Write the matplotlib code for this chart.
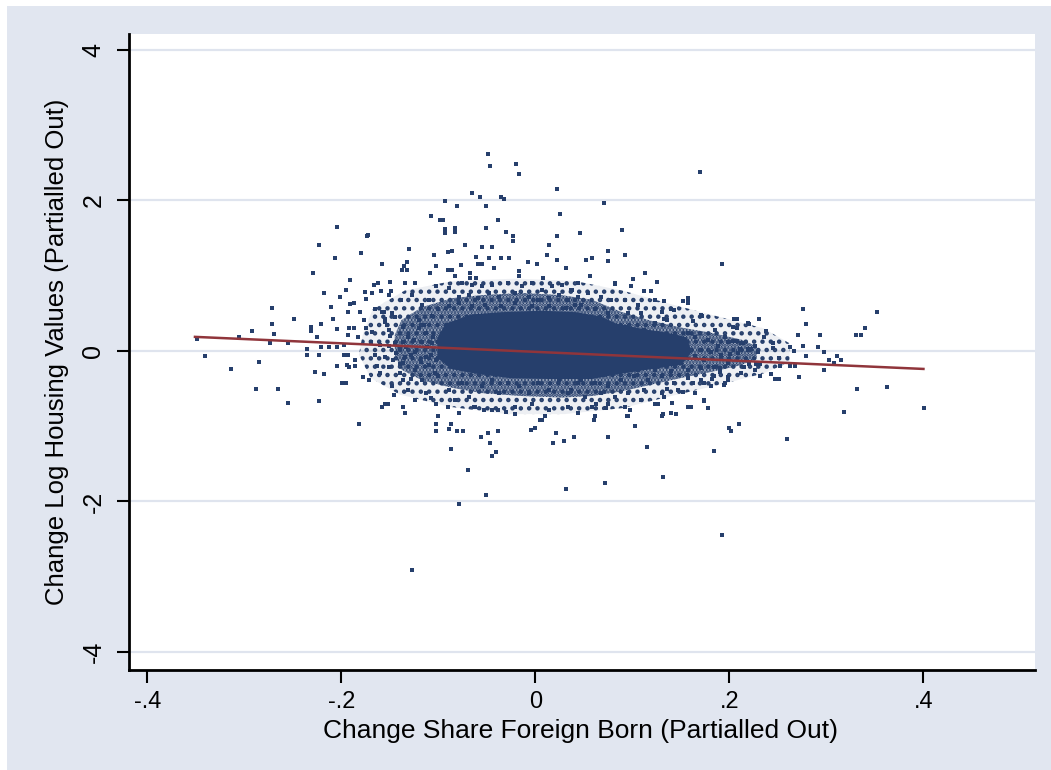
import numpy as np
import matplotlib.pyplot as plt
from matplotlib.patches import Rectangle

# outlying points above the cloud
upper = [(-0.049, 2.61), (-0.047, 2.46), (-0.020, 2.48), (-0.017, 2.35), (0.170, 2.38),
         (0.022, 2.15), (-0.065, 2.10), (-0.057, 2.04), (-0.035, 2.04), (-0.032, 2.02),
         (-0.093, 1.99), (0.071, 1.97), (-0.081, 1.92), (-0.051, 1.92), (0.025, 1.82),
         (-0.108, 1.79), (-0.098, 1.74), (-0.095, 1.74), (-0.039, 1.74), (-0.093, 1.62),
         (-0.093, 1.56), (-0.083, 1.63), (-0.083, 1.58), (-0.051, 1.63), (-0.030, 1.58),
         (-0.023, 1.53), (-0.023, 1.46), (0.022, 1.53), (0.046, 1.56), (0.089, 1.61),
         (-0.174, 1.53), (-0.073, 1.40), (0.014, 1.40), (-0.130, 1.36), (-0.086, 1.33),
         (-0.055, 1.38), (-0.045, 1.38), (0.075, 1.33), (-0.090, 1.31), (-0.105, 1.28),
         (0.012, 1.28), (0.092, 1.28), (-0.061, 1.25), (-0.048, 1.23), (-0.035, 1.24),
         (-0.027, 1.23), (0.022, 1.21), (0.075, 1.20), (0.052, 1.21), (0.058, 1.23),
         (0.192, 1.15), (-0.158, 1.15), (-0.132, 1.18), (-0.135, 1.13), (-0.138, 1.07),
         (-0.132, 1.07), (-0.103, 1.13), (-0.059, 1.15), (-0.055, 1.15), (-0.008, 1.18),
         (0.002, 1.15), (0.032, 1.10), (0.056, 1.00), (0.113, 1.04), (-0.077, 1.14),
         (-0.109, 1.04), (-0.090, 1.07), (-0.086, 1.07), (-0.083, 1.00), (-0.043, 1.10),
         (-0.067, 1.04), (-0.067, 0.97), (-0.061, 0.97), (-0.017, 1.06), (-0.017, 1.00),
         (0.008, 0.97), (0.101, 0.95), (0.125, 0.92), (0.082, 0.89)]

# outlying points below the cloud
lower = [(-0.127, -2.91), (-0.079, -2.04), (-0.051, -1.92), (0.032, -1.84), (0.072, -1.76),
         (0.131, -1.68), (0.192, -2.45), (-0.070, -1.58), (-0.087, -1.30), (-0.045, -1.40),
         (-0.041, -1.35), (-0.049, -1.09), (-0.047, -1.22), (-0.056, -1.15), (-0.039, -1.07),
         (-0.103, -0.97), (-0.103, -1.07), (-0.087, -0.97), (-0.089, -1.04), (-0.081, -1.06),
         (-0.075, -1.07), (0.018, -1.22), (0.021, -1.09), (0.029, -1.20), (0.040, -1.15),
         (-0.005, -1.05), (0.000, -1.02), (0.007, -0.92), (0.060, -0.92), (0.075, -1.15),
         (0.115, -1.28), (0.103, -1.00), (0.184, -1.33), (0.200, -1.02), (0.202, -1.07),
         (0.210, -0.97), (-0.158, -0.74), (-0.152, -0.71), (-0.146, -0.58), (-0.108, -0.62),
         (-0.090, -0.74), (-0.063, -0.74), (-0.053, -0.79), (-0.039, -0.79), (-0.030, -0.81),
         (-0.021, -0.84), (0.005, -0.92), (0.010, -0.87), (0.094, -0.87), (0.097, -0.79),
         (0.131, -0.84), (0.145, -0.84), (0.160, -0.74), (0.174, -0.66), (0.178, -0.76),
         (0.073, -0.76), (0.062, -0.71), (0.141, -0.69), (0.123, -0.71)]

# left tail
left = [(-0.205, 1.64), (-0.173, 1.54), (-0.223, 1.41), (-0.180, 1.30), (-0.207, 1.23),
        (-0.229, 1.03), (-0.191, 0.94), (-0.218, 0.77), (-0.195, 0.81), (-0.272, 0.57),
        (-0.249, 0.43), (-0.272, 0.36), (-0.270, 0.23), (-0.292, 0.26), (-0.306, 0.18),
        (-0.274, 0.11), (-0.255, 0.11), (-0.349, 0.16), (-0.341, -0.07), (-0.314, -0.24),
        (-0.285, -0.15), (-0.288, -0.50), (-0.265, -0.50), (-0.255, -0.69), (-0.223, -0.66),
        (-0.182, -0.97), (-0.158, -0.75), (-0.231, 0.32), (-0.231, 0.27), (-0.221, 0.36),
        (-0.225, 0.18), (-0.236, 0.02), (-0.236, -0.05), (-0.223, -0.05), (-0.221, 0.05),
        (-0.213, 0.05), (-0.205, 0.05), (-0.227, -0.28), (-0.218, -0.31), (-0.211, 0.58),
        (-0.209, 0.43), (-0.205, 0.29), (-0.201, 0.71), (-0.197, 0.08), (-0.205, -0.20),
        (-0.199, -0.43), (-0.195, -0.43), (-0.193, 0.51), (-0.191, 0.62), (-0.187, 0.63),
        (-0.193, 0.21), (-0.192, 0.31), (-0.187, 0.31), (-0.197, -0.05), (-0.193, -0.05),
        (-0.194, -0.19), (-0.192, -0.22), (-0.186, -0.12), (-0.186, -0.20), (-0.183, 0.19),
        (-0.178, -0.35), (-0.172, -0.39), (-0.176, 0.78), (-0.175, 0.69), (-0.168, 0.77),
        (-0.166, 0.87), (-0.162, 0.90), (-0.159, 0.80), (-0.150, 0.92), (-0.149, 0.80),
        (-0.181, 0.51), (-0.177, 0.41), (-0.175, 0.30), (-0.165, 0.56), (-0.158, 0.51),
        (-0.155, 0.43), (-0.153, 0.35), (-0.150, 0.20), (-0.145, 0.10), (-0.140, 0.02),
        (-0.147, -0.12), (-0.140, -0.18), (-0.133, 0.05), (-0.128, -0.05), (-0.125, 0.15),
        (-0.120, 0.30), (-0.118, -0.15), (-0.112, 0.05), (-0.108, -0.05), (-0.106, 0.18),
        (-0.104, -0.30), (-0.160, 0.08), (-0.165, -0.05), (-0.170, 0.12), (-0.163, -0.20),
        (-0.155, 0.38), (-0.145, 0.45), (-0.140, -0.30), (-0.128, -0.38), (-0.115, 0.35),
        (-0.160, -0.30), (-0.168, 0.25)]

# right tail
right = [(0.276, 0.56), (0.352, 0.51), (0.340, 0.31), (0.330, 0.21), (0.336, 0.21),
         (0.279, 0.36), (0.271, 0.21), (0.293, 0.21), (0.276, 0.07), (0.291, 0.05),
         (0.297, -0.02), (0.311, -0.07), (0.315, -0.12), (0.303, -0.12), (0.308, -0.16),
         (0.297, -0.25), (0.272, -0.35), (0.332, -0.50), (0.362, -0.48), (0.318, -0.81),
         (0.401, -0.76), (0.259, -1.17), (0.262, 0.05), (0.267, 0.00), (0.279, -0.07),
         (0.251, -0.10), (0.252, -0.20), (0.262, -0.20), (0.268, -0.20), (0.247, -0.38),
         (0.251, -0.38), (0.243, -0.31), (0.232, -0.33), (0.238, 0.26), (0.236, 0.18),
         (0.245, 0.10), (0.245, 0.04), (0.230, 0.43), (0.220, 0.36), (0.208, 0.43),
         (0.204, 0.32), (0.208, 0.31), (0.172, 0.46), (0.162, 0.40), (0.157, 0.69),
         (0.152, 0.66), (0.157, 0.65), (0.133, 0.66), (0.143, 0.54), (0.133, 0.43),
         (0.152, -0.54), (0.162, -0.43), (0.174, -0.43), (0.182, -0.38), (0.194, -0.45),
         (0.198, -0.35), (0.215, -0.21), (0.220, -0.18), (0.227, -0.18), (0.232, -0.18),
         (0.211, 0.03), (0.219, 0.03), (0.222, 0.03), (0.214, 0.11), (0.204, 0.13),
         (0.208, 0.13), (0.201, -0.04), (0.190, -0.23), (0.190, -0.28), (0.136, -0.50),
         (0.133, -0.61)]

# speckled band around the dense core
fringe = [(-0.134, 0.90), (-0.124, 0.90), (-0.151, 0.74), (-0.139, 0.68), (-0.127, 0.74),
          (-0.156, 0.52), (-0.148, 0.50), (-0.117, 0.61), (-0.110, 0.68), (-0.103, 0.86),
          (-0.089, 0.83), (-0.076, 0.90), (-0.065, 0.88), (-0.055, 0.86), (-0.045, 0.88),
          (-0.028, 0.90), (-0.014, 0.86), (-0.004, 0.90), (0.007, 0.81), (0.017, 0.86),
          (0.027, 0.88), (0.038, 0.81), (0.044, 0.90), (-0.079, 0.72), (-0.069, 0.74),
          (-0.059, 0.70), (-0.048, 0.77), (-0.038, 0.72), (-0.021, 0.77), (-0.007, 0.72),
          (0.003, 0.68), (0.014, 0.70), (0.024, 0.74), (0.034, 0.68), (0.044, 0.72),
          (-0.107, 0.46), (-0.120, 0.41), (-0.137, 0.32), (-0.151, 0.28), (-0.113, 0.24),
          (-0.131, 0.19), (-0.100, 0.55), (-0.089, 0.59), (-0.079, 0.63), (-0.065, 0.59),
          (-0.052, 0.61), (-0.035, 0.59), (-0.021, 0.63), (-0.004, 0.59), (0.014, 0.59),
          (0.031, 0.57), (0.041, 0.61),
          (-0.151, -0.21), (-0.137, -0.16), (-0.124, -0.25), (-0.110, -0.19), (-0.100, -0.34),
          (-0.117, -0.39), (-0.137, -0.39), (-0.148, -0.47), (-0.131, -0.52), (-0.113, -0.56),
          (-0.155, -0.70), (-0.137, -0.74), (-0.124, -0.65), (-0.103, -0.70), (-0.089, -0.52),
          (-0.076, -0.43), (-0.083, -0.65), (-0.069, -0.61), (-0.055, -0.47), (-0.045, -0.39),
          (-0.038, -0.56), (-0.028, -0.43), (-0.017, -0.47), (-0.007, -0.56), (0.003, -0.43),
          (0.014, -0.52), (0.024, -0.39), (0.034, -0.56), (0.044, -0.43), (-0.062, -0.74),
          (-0.045, -0.78), (-0.021, -0.74), (-0.004, -0.70), (0.014, -0.78), (0.034, -0.74),
          (0.044, -0.83), (-0.079, -0.83), (-0.100, -0.87), (-0.134, -0.83),
          (-0.151, 0.06), (-0.144, -0.03), (-0.134, -0.08), (-0.124, -0.01), (-0.113, -0.08),
          (-0.107, 0.10), (-0.117, 0.12), (-0.137, 0.12), (-0.155, -0.08), (-0.103, -0.12),
          (0.082, 0.90), (0.099, 0.86), (0.112, 0.79), (0.119, 0.79), (0.054, 0.77),
          (0.068, 0.72), (0.078, 0.68), (0.092, 0.68), (0.106, 0.61), (0.123, 0.68),
          (0.140, 0.55), (0.157, 0.70), (0.157, 0.63), (0.130, 0.52), (0.109, 0.50),
          (0.095, 0.50), (0.075, 0.50), (0.061, 0.55), (0.047, 0.61), (0.037, 0.81),
          (0.034, 0.68), (0.171, 0.48), (0.205, 0.43), (0.219, 0.37), (0.185, 0.28),
          (0.195, 0.19), (0.157, 0.24), (0.136, 0.41), (0.123, 0.37), (0.112, 0.28),
          (0.092, 0.32), (0.085, 0.15), (0.099, 0.24), (0.116, 0.15), (0.130, 0.17),
          (0.143, 0.15), (0.164, 0.19), (0.178, 0.15), (0.198, 0.12), (0.212, 0.10),
          (0.226, 0.06), (0.209, -0.03), (0.219, 0.01), (0.229, -0.01), (0.188, 0.06),
          (0.171, 0.01), (0.154, 0.06), (0.102, 0.06), (0.112, 0.01), (0.123, 0.08),
          (0.130, -0.03), (0.140, 0.04), (0.147, -0.10), (0.119, -0.12), (0.109, -0.16),
          (0.133, -0.19), (0.150, -0.16), (0.164, -0.07), (0.174, -0.12), (0.181, -0.01),
          (0.191, -0.05), (0.198, -0.16), (0.184, -0.21), (0.171, -0.23), (0.157, -0.25),
          (0.140, -0.27), (0.123, -0.25), (0.106, -0.25), (0.095, -0.21),
          (0.034, -0.34), (0.047, -0.39), (0.061, -0.43), (0.075, -0.47), (0.088, -0.39),
          (0.102, -0.34), (0.116, -0.39), (0.130, -0.34), (0.143, -0.43), (0.157, -0.36),
          (0.171, -0.39), (0.184, -0.34), (0.198, -0.39), (0.212, -0.30), (0.226, -0.25),
          (0.037, -0.52), (0.051, -0.61), (0.068, -0.56), (0.082, -0.61), (0.095, -0.56),
          (0.112, -0.52), (0.130, -0.56), (0.147, -0.52), (0.164, -0.56), (0.181, -0.47),
          (0.195, -0.43), (0.058, -0.74), (0.075, -0.70), (0.092, -0.74), (0.109, -0.65),
          (0.126, -0.70), (0.140, -0.83), (0.157, -0.74), (0.174, -0.65), (0.178, -0.76),
          (0.034, -0.74), (0.061, -0.87), (0.095, -0.87), (0.130, -0.87)]

# outline of the solid core of the cloud
core_x = [-0.100, -0.092, -0.066, -0.035, 0.006, 0.042, 0.068, 0.083, 0.109, 0.135,
          0.155, 0.160, 0.150, 0.119, 0.088, 0.058, 0.016, -0.025, -0.061, -0.086, -0.100]
core_y = [0.17, 0.35, 0.47, 0.50, 0.52, 0.50, 0.44, 0.35, 0.28, 0.23,
          0.17, -0.01, -0.17, -0.23, -0.29, -0.36, -0.36, -0.35, -0.29, -0.23, -0.09]

# outline of the crowded (half covered) zone round the core
halo_x = [-0.145, -0.138, -0.117, -0.086, -0.056, -0.014, 0.027, 0.058, 0.088, 0.119,
          0.150, 0.181, 0.212, 0.228, 0.228, 0.212, 0.181, 0.150, 0.119, 0.088,
          0.058, 0.027, -0.014, -0.056, -0.086, -0.117, -0.138, -0.145]
halo_y = [0.21, 0.41, 0.58, 0.70, 0.74, 0.77, 0.74, 0.68, 0.52, 0.40,
          0.31, 0.24, 0.15, 0.06, -0.10, -0.19, -0.28, -0.36, -0.45, -0.54,
          -0.60, -0.62, -0.60, -0.56, -0.49, -0.39, -0.25, -0.05]

# outline of the thinner speckle outside the crowded zone
outer_x = [-0.178, -0.168, -0.135, -0.085, -0.020, 0.040, 0.090, 0.140, 0.190, 0.235,
           0.262, 0.262, 0.235, 0.190, 0.140, 0.090, 0.030, -0.030, -0.090, -0.140,
           -0.170, -0.182]
outer_y = [0.22, 0.55, 0.80, 0.93, 0.96, 0.93, 0.80, 0.62, 0.45, 0.30,
           0.10, -0.15, -0.30, -0.45, -0.60, -0.76, -0.84, -0.84, -0.74, -0.58,
           -0.36, -0.05]

# fitted line
fit_x = [-0.351, 0.400]
fit_y = [0.186, -0.240]

xticks = [-0.4, -0.2, 0, 0.2, 0.4]
xtick_labels = ['-.4', '-.2', '0', '.2', '.4']
yticks = [-4, -2, 0, 2, 4]
ytick_labels = ['-4', '-2', '0', '2', '4']

navy = '#263f6c'
maroon = '#90353b'
bg = '#e1e6f0'
font = ['Liberation Sans', 'DejaVu Sans']

plt.rcParams['hatch.linewidth'] = 2.0
plt.rcParams['hatch.color'] = navy

fig = plt.figure(figsize=(10.51, 7.70), dpi=100, facecolor='white')
fig.patches.append(Rectangle((7 / 1051, 0), 1, 1 - 6 / 770, transform=fig.transFigure,
                             facecolor=bg, edgecolor='none', zorder=-10))
ax = fig.add_axes([129 / 1051, 100 / 770, 906 / 1051, 636 / 770])
ax.set_facecolor('white')

ax.fill(outer_x, outer_y, facecolor=(0.149, 0.247, 0.424, 0.08), edgecolor=navy, lw=0,
        hatch='..', zorder=1.2)
ax.fill(halo_x, halo_y, facecolor=(0.149, 0.247, 0.424, 0.3), edgecolor=navy, lw=0,
        hatch='.....', zorder=1.5)
ax.fill(core_x, core_y, color=navy, lw=1.5, zorder=2)
for grp in (upper, lower, left, right, fringe):
    pts = np.array(grp)
    ax.scatter(pts[:, 0], pts[:, 1], s=5, marker='s', color=navy, linewidths=0, zorder=2)
ax.plot(fit_x, fit_y, color=maroon, lw=1.8, zorder=3)

ax.set_xlim(-0.419, 0.515)
ax.set_ylim(-4.24, 4.21)
ax.set_xticks(xticks)
ax.set_xticklabels(xtick_labels, family=font, fontsize=17)
ax.set_yticks(yticks)
ax.set_yticklabels(ytick_labels, family=font, fontsize=18, rotation=90, va='center')
ax.tick_params(axis='x', length=9, width=1.5, pad=6)
ax.tick_params(axis='y', length=9, width=1.5, pad=8)

ax.yaxis.grid(True, color='#dfe4ee', lw=1.6)
ax.set_axisbelow(True)
for s in ('top', 'right'):
    ax.spines[s].set_visible(False)
for s in ('left', 'bottom'):
    ax.spines[s].set_linewidth(2)
    ax.spines[s].set_color('black')

ax.set_xlabel('Change Share Foreign Born (Partialled Out)', family=font, fontsize=19)
ax.set_ylabel('Change Log Housing Values (Partialled Out)', family=font, fontsize=18.5)
ax.xaxis.set_label_coords(0.498, -0.077)
ax.yaxis.set_label_coords(-0.066, 0.5)

fig.savefig('out.png', dpi=100, facecolor=fig.get_facecolor())
